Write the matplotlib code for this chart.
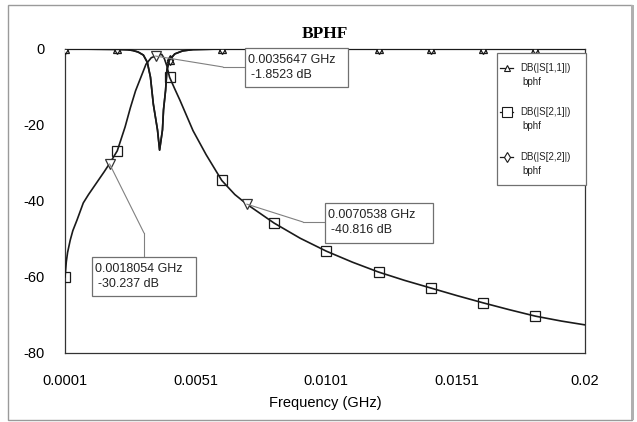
import numpy as np
import matplotlib
matplotlib.use("Agg")
import matplotlib.pyplot as plt
from matplotlib.patches import Rectangle, ConnectionPatch
from matplotlib.lines import Line2D

# ---------------- data ----------------
s21_freq = [0.0001, 0.00012, 0.00015, 0.0002, 0.0003, 0.0004, 0.00056, 0.0008, 0.0010,
            0.0013, 0.0016, 0.0018, 0.0021, 0.0024, 0.0026, 0.0028, 0.0030, 0.0032,
            0.0034, 0.00356, 0.0037, 0.0038, 0.0039, 0.0040, 0.0041, 0.0043, 0.0045,
            0.0050, 0.0055, 0.0061, 0.0066, 0.00705, 0.0081, 0.0091, 0.0101, 0.0111,
            0.0121, 0.0131, 0.0141, 0.0151, 0.0161, 0.0171, 0.0181, 0.0191, 0.0200]
s21_db = [-60.0, -58.5, -56.0, -53.5, -50.3, -47.8, -45.0, -40.5, -38.3,
          -35.3, -32.3, -30.2, -26.8, -20.5, -15.5, -11.0, -7.5, -4.0,
          -2.3, -1.85, -1.5, -1.4, -2.5, -4.5, -7.4, -10.5, -13.5,
          -21.5, -27.8, -34.6, -38.3, -40.8, -45.8, -49.8, -53.2, -56.1,
          -58.7, -60.9, -62.9, -64.9, -66.8, -68.6, -70.3, -71.6, -72.6]

s11_freq = [0.0001, 0.0021, 0.0025, 0.0027, 0.0029, 0.0031, 0.00325, 0.00337, 0.00348,
            0.00364, 0.00372, 0.00383, 0.00387, 0.00395, 0.0040, 0.0041, 0.0043, 0.0046,
            0.0050, 0.0061, 0.0081, 0.0101, 0.0121, 0.0141, 0.0161, 0.0181, 0.0200]
s11_db = [0.0, -0.1, -0.2, -0.4, -0.8, -1.6, -3.5, -7.4, -14.5,
          -21.3, -26.6, -21.3, -16.0, -10.8, -5.5, -2.9, -1.3, -0.5,
          -0.15, 0.0, 0.0, 0.0, 0.0, 0.0, 0.0, 0.0, 0.0]
s22_freq = s11_freq
s22_db = s11_db

symbol_freq = [0.0001, 0.0021, 0.0041, 0.0061, 0.0081, 0.0101, 0.0121, 0.0141, 0.0161, 0.0181]

marker_freq = [0.0018054, 0.0035647, 0.0070538]
marker_db = [-30.237, -1.8523, -40.816]

x_ticks = [0.0001, 0.0051, 0.0101, 0.0151, 0.02]
x_tick_labels = ["0.0001", "0.0051", "0.0101", "0.0151", "0.02"]
y_ticks = [0, -20, -40, -60, -80]
y_tick_labels = ["0", "-20", "-40", "-60", "-80"]

legend_labels = ["DB(|S[1,1]|)", "DB(|S[2,1]|)", "DB(|S[2,2]|)"]
legend_sub = "bphf"
title = "BPHF"
xlabel = "Frequency (GHz)"

# ---------------- figure ----------------
W, H = 637, 422
fig = plt.figure(figsize=(W / 100, H / 100), dpi=100)
plt.rcParams['font.family'] = ['Liberation Sans', 'DejaVu Sans']

def fx(px):
    return px / W

def fy(py):
    return 1 - py / H

# outer frame
fig.patches.append(Rectangle((fx(8), fy(420)), fx(624), 415 / H, transform=fig.transFigure,
                             fill=False, edgecolor="#9a9a9a", lw=1.0))
fig.patches.append(Rectangle((fx(631), fy(420)), 2.5 / W, 415 / H, transform=fig.transFigure,
                             facecolor="#b0b0b0", edgecolor="none"))

ax = fig.add_axes([fx(65), fy(353), 520 / W, 304 / H])
ax.set_xlim(0.0001, 0.02)
ax.set_ylim(-80, 0)

line_col = "#1a1a1a"

def idx_of(freqs):
    return [i for i, f in enumerate(freqs) if any(np.isclose(f, s, atol=1e-7) for s in symbol_freq)]

ax.plot(s11_freq, s11_db, color=line_col, lw=1.2, marker="^", ms=5.5, mfc="white",
        mec=line_col, mew=0.9, markevery=idx_of(s11_freq), zorder=3)
ax.plot(s22_freq, s22_db, color=line_col, lw=1.2, marker="d", ms=5.5, mfc="none",
        mec=line_col, mew=0.9, markevery=idx_of(s22_freq), zorder=3)
ax.plot(s21_freq, s21_db, color=line_col, lw=1.2, marker="s", ms=7.5, mfc="none",
        mec=line_col, mew=0.9, markevery=idx_of(s21_freq), zorder=3)

# ADS-style markers
ax.plot(marker_freq, marker_db, linestyle="none", marker="v", ms=6.5, mfc="white",
        mec="#333333", mew=0.9, zorder=4)

ax.set_xticks(x_ticks)
ax.set_xticklabels(x_tick_labels, fontsize=10.5)
ax.set_yticks(y_ticks)
ax.set_yticklabels(y_tick_labels, fontsize=10.5)
ax.tick_params(axis="both", length=0)
ax.tick_params(axis="x", pad=15)
ax.tick_params(axis="y", pad=15)
for sp in ax.spines.values():
    sp.set_color("#333333")
    sp.set_linewidth(0.9)
ax.set_xlabel(xlabel, fontsize=10.5, labelpad=6)
ax.set_title(title, fontsize=12.5, fontweight="bold", family=["Liberation Serif", "DejaVu Serif"], pad=8)

# marker label boxes
boxes = [  # (left, top, right, bottom) in image px, leader: box attach, bend
    ((245, 48, 348, 87), (245, 67), (223, 67)),
    ((92, 257, 196, 296), (144, 257), (144, 233)),
    ((325, 203, 433, 243), (325, 222), (303, 222)),
]
order = [1, 0, 2]  # box index for each marker
lead_col = "#808080"
for mi, bi in enumerate(order):
    (l, t, r, b), attach, bend = boxes[bi]
    fig.patches.append(Rectangle((fx(l), fy(b)), (r - l) / W, (b - t) / H, transform=fig.transFigure,
                                 facecolor="white", edgecolor="#707070", lw=0.9, zorder=5))
    fig.text(fx(l + 3), fy(t + 12), f"{marker_freq[mi]:.7f} GHz", fontsize=9, va="center",
             ha="left", color="#222222", zorder=6)
    fig.text(fx(l + 6), fy(t + 27), f"{marker_db[mi]:g} dB", fontsize=9, va="center",
             ha="left", color="#222222", zorder=6)
    fig.add_artist(Line2D([fx(attach[0]), fx(bend[0])], [fy(attach[1]), fy(bend[1])],
                          transform=fig.transFigure, color=lead_col, lw=0.8))
    cp = ConnectionPatch(xyA=(fx(bend[0]), fy(bend[1])), coordsA=fig.transFigure,
                         xyB=(marker_freq[mi], marker_db[mi]), coordsB=ax.transData,
                         color=lead_col, lw=0.8)
    fig.add_artist(cp)

# legend (drawn by hand to match the layout)
lg_l, lg_t, lg_r, lg_b = 497, 53, 586, 185
fig.patches.append(Rectangle((fx(lg_l), fy(lg_b)), (lg_r - lg_l) / W, (lg_b - lg_t) / H,
                             transform=fig.transFigure, facecolor="white",
                             edgecolor="#707070", lw=0.9, zorder=5))
rows = [68, 112, 157]
syms = [("^", 5), ("s", 7), ("d", 5)]
for lab, yrow, (m, ms) in zip(legend_labels, rows, syms):
    fig.add_artist(Line2D([fx(500), fx(513)], [fy(yrow), fy(yrow)], transform=fig.transFigure,
                          color=line_col, lw=0.9, zorder=6))
    fig.add_artist(Line2D([fx(506.5)], [fy(yrow)], transform=fig.transFigure, marker=m, ms=ms,
                          mfc="white", mec=line_col, mew=0.8, linestyle="none", zorder=7))
    fig.text(fx(520), fy(yrow), lab, fontsize=7, va="center", ha="left", color="#222222", zorder=7)
    fig.text(fx(522), fy(yrow + 14), legend_sub, fontsize=7, va="center", ha="left",
             color="#222222", zorder=7)

fig.savefig("out.png", dpi=100)
